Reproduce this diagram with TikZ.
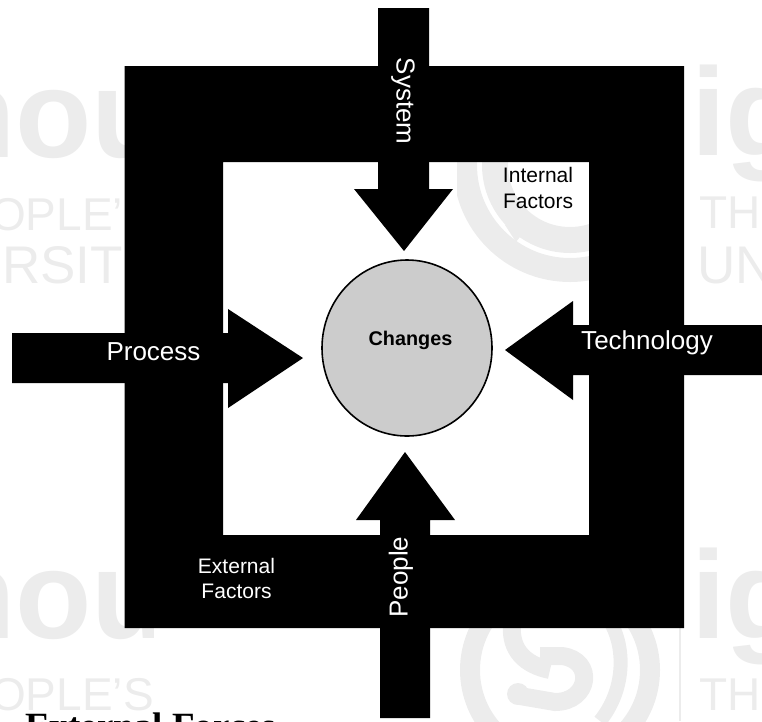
\documentclass[tikz,border=0pt]{standalone}
\usepackage{fontspec}
\setmainfont{Liberation Sans}
\newfontfamily\serifbold[BoldFont={Liberation Serif Bold}]{Liberation Serif}
\usetikzlibrary{shapes.geometric}
\definecolor{wm}{HTML}{ECECEC}
\tikzset{
  wmtext/.style={text=wm,inner sep=0pt,anchor=base west},
  wmline/.style={draw=wm,line cap=butt},
  blockshape/.style={fill=black,draw=none},
  whitelabel/.style={text=white,inner sep=0pt,align=center,font=\fontsize{26}{26}\selectfont},
  smallwhite/.style={text=white,inner sep=0pt,align=center,font=\fontsize{21}{25}\selectfont},
  smallblack/.style={text=black,inner sep=0pt,align=center,font=\fontsize{21}{26}\selectfont},
  hub/.style={ellipse,draw=black,line width=1.6pt,fill=black!20,minimum width=170pt,minimum height=176pt,inner sep=0pt},
  hubtext/.style={inner sep=0pt,font=\fontsize{19.8}{20}\selectfont\bfseries}
}
\begin{document}
\begin{tikzpicture}[x=1pt,y=-1pt]
\clip (0,0) rectangle (762,721);
% watermark: left column
\begin{scope}
\clip (0,0) rectangle (153,721);
\node[wmtext,font=\fontsize{125}{125}\selectfont\bfseries] (wa) at (-61,157) {nou};
\node[wmtext,font=\fontsize{46}{46}\selectfont] (wb) at (-10,230) {OPLE'};
\node[wmtext,font=\fontsize{53}{53}\selectfont] (wc) at (2,283) {RSIT};
\node[wmtext,font=\fontsize{125}{125}\selectfont\bfseries] (wd) at (-61,638) {nou};
\node[wmtext,font=\fontsize{46}{46}\selectfont] (we) at (-10,710) {OPLE'S};
\end{scope}
% watermark: right column
\node[wmtext,font=\fontsize{125}{125}\selectfont\bfseries] (wf) at (691,155) {ig};
\node[wmtext,font=\fontsize{46}{46}\selectfont] (wg) at (699,228) {THE};
\node[wmtext,font=\fontsize{53}{53}\selectfont] (wh) at (697,283) {UN};
\node[wmtext,font=\fontsize{125}{125}\selectfont\bfseries] (wi) at (691,638) {ig};
\node[wmtext,font=\fontsize{46}{46}\selectfont] (wj) at (699,710) {THE};
% watermark: upper logo
\begin{scope}
\clip (457,162) rectangle (600,290);
\draw[wmline,line width=24pt] (570,165) circle[radius=105];
\draw[wmline,line width=26pt] (570,165) circle[radius=75];
\fill[wm] (505,225) -- (527,228) -- (516,242) -- cycle;
\end{scope}
% watermark: lower logo
\begin{scope}
\clip (457,628) rectangle (670,721);
\draw[wmline,line width=20pt] (560,670) circle[radius=90];
\draw[wmline,line width=18pt] (512,625) .. controls (510,650) and (525,665) .. (550,670);
\draw[wmline,line width=18pt] (540,656) -- (562,656) .. controls (595,660) and (590,702) .. (555,702) -- (520,696);
\fill[wm] (518,694) circle[radius=11];
\draw[wmline,line width=14pt] (612,625) .. controls (625,650) and (625,690) .. (600,721);
\end{scope}
\draw[draw=wm,line width=2pt] (679.5,628) -- (679.5,721);
% caption cut off by the page edge
\node[inner sep=0pt,anchor=base west,font=\fontsize{37}{37}\serifbold\bfseries] (cap) at (25,738) {External Forces};
% frame
\fill[blockshape,even odd rule] (124.5,66) rectangle (684,628) (223,162) rectangle (589,535);
% arrows
\fill[blockshape] (378,8) -- (429,8) -- (429,189) -- (453,189) -- (404,251) -- (354,189) -- (378,189) -- cycle;
\fill[blockshape] (12,333) -- (228,333) -- (228,309) -- (303,358) -- (228,408) -- (228,383) -- (12,383) -- cycle;
\fill[blockshape] (762,325) -- (573,325) -- (573,301) -- (505,350) -- (573,400) -- (573,375) -- (762,375) -- cycle;
\fill[blockshape] (380,718) -- (430,718) -- (430,520) -- (455,520) -- (405,452) -- (356,520) -- (380,520) -- cycle;
% hub
\node[hub] (hubshape) at (407,348) {};
\node[hubtext] (changes) at (410.5,340) {Changes};
% labels
\node[whitelabel,rotate=-90] (system) at (403,101) {System};
\node[whitelabel] (process) at (153.5,352) {Process};
\node[whitelabel] (technology) at (647,343) {Technology};
\node[whitelabel,rotate=90] (people) at (401,577) {People};
\node[smallblack] (internal) at (538,188) {Internal\\Factors};
\node[smallwhite] (external) at (236.5,578) {External\\Factors};
\end{tikzpicture}
\end{document}
